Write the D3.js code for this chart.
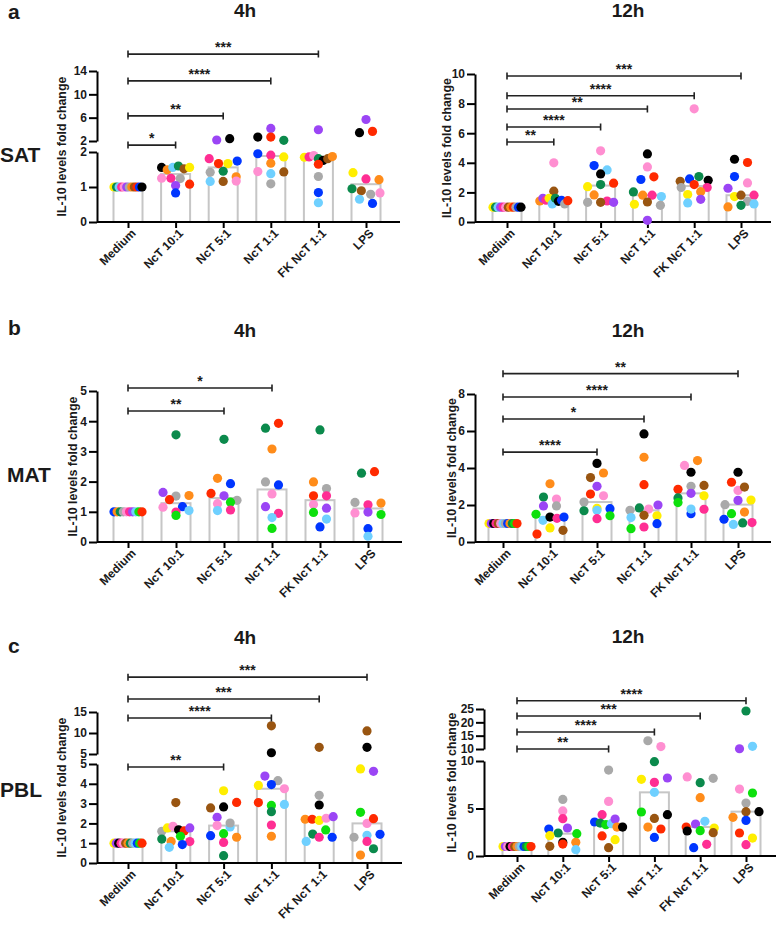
<!DOCTYPE html>
<html>
<head>
<meta charset="utf-8">
<script src="https://cdn.jsdelivr.net/npm/d3@7"></script>
<style>
  body { margin: 0; background: #fff; }
  text { font-family: "Liberation Sans", Arial, sans-serif; font-weight: bold; fill: #1a1a1a; }
</style>
</head>
<body>
<svg id="chart"></svg>
<script>
// categories on the x axis
const categories = ["Medium", "NcT 10:1", "NcT 5:1", "NcT 1:1", "FK NcT 1:1", "LPS"];

// donors (one colour each)
const donorIds = ["Y", "P", "H", "L", "O", "N", "K", "R", "G", "E", "B", "C", "A"];
const donorPalette = ["#ffee00", "#9b45f5", "#ff2e93", "#ff8fd1", "#ff8c1a", "#995511", "#000000",
                      "#ff2a00", "#0de00d", "#0b8a4c", "#0036ff", "#6fd0ff", "#a9a9a9"];

// fold change per donor, one list per category (order = left to right in the cluster)
const sat4h = [
  [["Y",1],["E",1],["C",1],["H",1],["L",1],["P",1],["A",1],["O",1],["N",1],["R",1],["B",1],["K",1]],
  [["K",1.56],["O",1.49],["C",1.56],["E",1.60],["N",1.52],["Y",1.56],["L",1.25],["H",1.25],["A",1.24],["R",1.08],["P",1.04],["B",0.83]],
  [["P",2.17],["K",2.4],["H",1.81],["R",1.67],["Y",1.67],["B",1.74],["A",1.42],["E",1.45],["O",1.29],["C",1.16],["N",1.16],["L",1.17]],
  [["K",2.68],["P",4.16],["R",2.68],["E",2.11],["B",1.95],["H",1.91],["Y",1.86],["O",1.68],["L",1.44],["C",1.38],["N",1.43],["A",1.09]],
  [["P",3.93],["Y",1.85],["H",1.86],["L",1.90],["E",1.81],["K",1.76],["N",1.81],["O",1.87],["R",1.65],["A",1.30],["B",0.84],["C",0.55]],
  [["P",5.69],["K",3.42],["R",3.65],["Y",1.41],["H",1.23],["O",1.21],["E",0.95],["N",0.89],["A",0.79],["L",0.83],["C",0.65],["B",0.53]]
];
const sat12h = [
  [["Y",1],["E",1],["C",1],["P",1],["H",1],["L",1],["N",1],["O",1],["R",1],["A",1],["B",1],["K",1]],
  [["L",4.0],["N",2.08],["O",1.42],["P",1.60],["H",1.47],["Y",1.60],["C",1.22],["E",1.60],["K",1.40],["B",1.47],["A",1.22],["R",1.44]],
  [["L",4.81],["B",3.81],["C",3.52],["K",3.25],["Y",2.39],["E",2.53],["R",2.62],["O",1.83],["A",1.33],["H",1.42],["N",1.33],["P",1.33]],
  [["K",4.60],["L",3.72],["B",2.87],["R",3.05],["E",2.03],["O",1.81],["H",1.81],["C",1.72],["Y",1.20],["N",1.35],["A",1.13],["P",0.11]],
  [["L",7.65],["N",2.75],["B",2.91],["E",3.07],["K",2.82],["A",2.33],["R",2.53],["H",2.33],["Y",1.85],["O",2.05],["C",1.29],["P",1.53]],
  [["K",4.24],["R",4.02],["B",3.07],["L",2.64],["P",2.28],["Y",1.72],["N",1.81],["H",1.81],["A",1.40],["O",1.02],["E",1.13],["C",1.22]]
];
const mat4h = [
  [["B",1],["O",1],["E",1],["A",1],["L",1],["H",1],["P",1],["C",1],["G",1],["R",1]],
  [["E",3.55],["P",1.64],["A",1.52],["O",1.54],["R",1.40],["L",1.15],["B",1.17],["H",0.99],["C",1.04],["G",0.88]],
  [["E",3.40],["O",2.11],["B",1.93],["R",1.61],["P",1.53],["A",1.38],["L",1.27],["G",1.32],["C",1.04],["H",1.06]],
  [["E",3.77],["R",3.93],["O",3.08],["A",1.99],["B",1.89],["L",1.59],["P",1.17],["H",0.95],["C",0.81],["G",0.45]],
  [["E",3.71],["O",1.99],["A",1.77],["R",1.53],["H",1.53],["L",1.24],["P",1.12],["G",0.98],["C",0.76],["B",0.50]],
  [["E",2.28],["R",2.33],["A",1.31],["H",1.23],["O",1.29],["L",0.96],["P",0.99],["G",0.91],["B",0.44],["C",0.19]]
];
const mat12h = [
  [["Y",1],["P",1],["K",1],["H",1],["N",1],["L",1],["C",1],["A",1],["B",1],["O",1],["E",1],["G",1],["R",1]],
  [["O",3.15],["E",2.43],["L",2.32],["P",1.95],["A",1.95],["G",1.50],["C",1.17],["K",1.35],["H",1.28],["B",1.35],["R",0.43],["Y",0.76],["N",0.63]],
  [["K",4.25],["N",3.48],["O",3.73],["P",3.01],["R",2.59],["L",2.50],["A",2.16],["E",1.69],["Y",1.82],["B",1.80],["C",1.71],["H",1.26],["G",1.42]],
  [["K",5.84],["O",4.58],["R",3.10],["A",1.71],["E",1.84],["L",1.78],["P",2.0],["C",1.32],["N",1.44],["Y",1.42],["G",0.72],["H",0.81],["B",0.99]],
  [["L",4.14],["O",4.40],["K",3.77],["R",2.85],["A",3.01],["N",3.06],["E",2.38],["P",2.63],["Y",2.50],["G",2.13],["B",1.53],["C",1.78],["H",1.77]],
  [["K",3.77],["R",3.23],["L",2.79],["N",2.97],["A",2.02],["P",2.25],["Y",2.27],["G",1.53],["O",1.62],["B",1.23],["C",0.95],["E",1.03],["H",1.05]]
];
const pbl4h = [
  [["Y",1],["P",1],["K",1],["H",1],["L",1],["N",1],["O",1],["E",1],["A",1],["C",1],["B",1],["G",1],["R",1]],
  [["N",3.05],["A",1.60],["Y",1.77],["L",1.85],["K",1.68],["R",1.62],["P",1.77],["E",1.21],["O",1.09],["G",1.35],["H",1.08],["C",0.79],["B",0.93]],
  [["Y",3.65],["N",2.78],["K",2.83],["R",3.06],["P",2.31],["L",1.89],["C",1.82],["A",2.02],["B",1.38],["G",1.48],["O",1.30],["H",1.04],["E",0.37]],
  [["N",11.7],["K",5.3],["P",4.39],["A",4.16],["Y",3.92],["B",3.96],["L",3.75],["R",3.05],["G",2.91],["C",2.96],["E",2.59],["H",1.92],["O",1.35]],
  [["N",6.6],["A",3.42],["K",2.93],["O",2.21],["R",2.21],["Y",2.15],["L",2.26],["P",2.34],["E",1.46],["G",1.67],["C",1.09],["H",1.30],["B",1.30]],
  [["N",10.5],["K",6.6],["Y",4.75],["P",4.63],["G",2.56],["L",2.0],["R",2.24],["A",1.30],["C",1.40],["B",1.45],["H",1.09],["O",0.40],["E",0.72]]
];
const pbl12h = [
  [["Y",1],["P",1],["L",1],["K",1],["H",1],["N",1],["O",1],["A",1],["C",1],["B",1],["E",1],["G",1],["R",1]],
  [["A",5.96],["L",4.74],["H",3.93],["B",2.84],["E",2.42],["P",2.95],["G",2.35],["Y",2.14],["K",1.44],["O",1.44],["N",1.02],["R",1.26],["C",0.67]],
  [["A",9.05],["L",5.75],["H",4.35],["B",3.58],["E",3.47],["G",3.30],["C",3.40],["P",3.89],["O",3.05],["K",3.05],["R",2.11],["Y",1.72],["N",0.88]],
  [["A",13.1],["L",10.9],["E",9.93],["Y",8.07],["H",7.75],["P",8.21],["C",6.70],["G",4.63],["N",3.96],["K",4.35],["O",3.05],["R",2.84],["B",1.96]],
  [["L",8.32],["E",7.72],["A",8.18],["O",6.14],["R",3.05],["P",3.37],["C",3.65],["Y",2.95],["K",2.63],["G",2.67],["N",2.46],["B",0.88],["H",1.23]],
  [["E",24.25],["P",10.1],["C",11.0],["L",7.05],["G",6.63],["A",5.58],["O",4.07],["N",4.67],["K",4.67],["B",3.75],["R",2.42],["Y",1.89],["H",1.19]]
];

// significance brackets vs Medium: [target category index, stars, height in axis units]
const sat4hSig = [[1, "*", 1.3], [2, "**", 6.3], [3, "****", 12.3], [4, "***", 16.9]];
const sat12hSig = [[1, "**", 5.41], [2, "****", 6.42], [3, "**", 7.64], [4, "****", 8.53], [5, "***", 9.86]];
const mat4hSig = [[2, "**", 4.34], [3, "*", 5.10]];
const mat12hSig = [[2, "****", 4.86], [3, "*", 6.65], [4, "****", 7.84], [5, "**", 9.1]];
const pbl4hSig = [[2, "**", 1.9], [3, "****", 13.57], [4, "***", 18.1], [5, "***", 23.3]];
const pbl12hSig = [[2, "**", 10], [3, "****", 16.4], [4, "***", 22.4], [5, "****", 28.1]];

const yTitle = "IL-10 levels fold change";

const width = 778, height = 925;
const svg = d3.select("#chart").attr("width", width).attr("height", height);
const colour = d3.scaleOrdinal(donorIds, donorPalette);
const FONT = "Liberation Sans, Arial, sans-serif";

// panel layout (pixels)
const panels = [
  { data: sat4h, sig: sat4hSig, title: "4h", tx: 245, ty: 17, axisX: 97, xEnd: 400, xr: [128, 366], labelX: 62,
    segs: [{ d: [0, 2], r: [222, 152], t: [0, 1, 2] }, { d: [2, 14], r: [141, 71], t: [2, 6, 10, 14] }] },
  { data: sat12h, sig: sat12hSig, title: "12h", tx: 628, ty: 17, axisX: 475, xEnd: 771, xr: [507, 741], labelX: 447,
    segs: [{ d: [0, 10], r: [222, 74], t: [0, 2, 4, 6, 8, 10] }] },
  { data: mat4h, sig: mat4hSig, title: "4h", tx: 245, ty: 337, axisX: 97, xEnd: 402, xr: [128, 368], labelX: 73,
    segs: [{ d: [0, 5], r: [542, 391], t: [0, 1, 2, 3, 4, 5] }] },
  { data: mat12h, sig: mat12hSig, title: "12h", tx: 628, ty: 337, axisX: 475, xEnd: 771, xr: [503, 738], labelX: 452,
    segs: [{ d: [0, 8], r: [542, 394], t: [0, 2, 4, 6, 8] }] },
  { data: pbl4h, sig: pbl4hSig, title: "4h", tx: 245, ty: 644, axisX: 97, xEnd: 402, xr: [128, 367], labelX: 62,
    segs: [{ d: [0, 5], r: [863, 764], t: [0, 1, 2, 3, 4, 5] }, { d: [5, 15], r: [754, 712], t: [5, 10, 15] }] },
  { data: pbl12h, sig: pbl12hSig, title: "12h", tx: 628, ty: 643, axisX: 484, xEnd: 776, xr: [517, 746], labelX: 452,
    segs: [{ d: [0, 10], r: [856, 761], t: [0, 5, 10] }, { d: [10, 25], r: [749, 709], t: [10, 15, 20, 25] }] }
];

// panel letters and tissue labels
const letters = [["a", 8, 19], ["b", 8, 335], ["c", 8, 653]];
const tissues = [["SAT", 0, 162], ["MAT", 7, 482], ["PBL", 0, 797]];

svg.selectAll("text.letter").data(letters).enter().append("text")
  .attr("class", "letter").attr("x", d => d[1]).attr("y", d => d[2])
  .style("font-size", "21px").text(d => d[0]);
svg.selectAll("text.tissue").data(tissues).enter().append("text")
  .attr("class", "tissue").attr("x", d => d[1]).attr("y", d => d[2])
  .style("font-size", "21px").text(d => d[0]);

// GraphPad-like spread: dots closer than ~7px vertically share a row and are fanned out
function spread(points) {
  const sorted = points.slice().sort((a, b) => a.py - b.py);
  const rows = [];
  let cur = null;
  sorted.forEach(p => {
    if (cur && p.py - cur[0].py < 7) cur.push(p);
    else { cur = [p]; rows.push(cur); }
  });
  rows.forEach(r => {
    r.sort((a, b) => a.i - b.i);
    const n = r.length;
    const s = n > 1 ? Math.min(13, 28 / (n - 1)) : 0;
    r.forEach((p, k) => { p.dx = (k - (n - 1) / 2) * s; });
  });
}

function styleTicks(sel) {
  sel.attr("font-size", 12).attr("font-family", FONT);
  sel.select(".domain").attr("stroke-width", 2);
  sel.selectAll(".tick line").attr("stroke-width", 2);
  sel.selectAll(".tick text").attr("fill", "#1a1a1a")
    .style("font-size", "12px").style("font-family", FONT).style("font-weight", "bold");
}

panels.forEach(pn => {
  const g = svg.append("g");
  const x = d3.scalePoint().domain(categories).range(pn.xr);
  const scales = pn.segs.map(s => d3.scaleLinear().domain(s.d).range(s.r));
  const low = scales[0];
  const top = scales[scales.length - 1];
  const yOf = v => (scales.length > 1 && v > pn.segs[0].d[1]) ? scales[1](v) : low(v);
  const y0 = low(0);

  // title
  g.append("text").attr("x", pn.tx).attr("y", pn.ty).attr("text-anchor", "middle")
    .style("font-size", "19px").text(pn.title);

  // bars = median
  const medians = pn.data.map(grp => d3.median(grp, d => d[1]));
  g.selectAll("rect.bar").data(medians).enter().append("rect")
    .attr("class", "bar")
    .attr("x", (d, i) => x(categories[i]) - 14.5)
    .attr("width", 29)
    .attr("y", d => yOf(d))
    .attr("height", d => y0 - yOf(d))
    .attr("fill", "#fff").attr("stroke", "#c6c6c6").attr("stroke-width", 2);

  // y axis segments
  pn.segs.forEach((s, k) => {
    g.append("g").attr("transform", `translate(${pn.axisX},0)`)
      .call(d3.axisLeft(scales[k]).tickValues(s.t).tickFormat(d3.format("d"))
        .tickSize(8).tickSizeOuter(0).tickPadding(2))
      .call(styleTicks);
  });

  // x axis
  const xa = g.append("g").attr("transform", `translate(0,${y0})`)
    .call(d3.axisBottom(x).tickSize(6).tickSizeOuter(0))
    .call(styleTicks);
  xa.select(".domain").attr("d", `M${pn.axisX},0H${pn.xEnd}`);
  xa.selectAll(".tick text")
    .attr("text-anchor", "end")
    .attr("transform", "translate(5,9) rotate(-45)")
    .attr("dy", "0.35em").attr("y", 0).attr("x", 0);

  // y title
  const yTop = top.range()[1];
  g.append("text")
    .attr("transform", `translate(${pn.labelX},${(yTop + y0) / 2}) rotate(-90)`)
    .attr("text-anchor", "middle").attr("dy", "0.35em")
    .style("font-size", "12.4px").text(yTitle);

  // dots
  pn.data.forEach((grp, gi) => {
    const pts = grp.map((d, i) => ({ donor: d[0], value: d[1], i, py: yOf(d[1]), dx: 0 }));
    spread(pts);
    g.selectAll(null).data(pts).enter().append("circle")
      .attr("cx", d => x(categories[gi]) + d.dx)
      .attr("cy", d => d.py)
      .attr("r", 4.6)
      .attr("fill", d => colour(d.donor));
  });

  // significance brackets
  const x0 = x(categories[0]);
  pn.sig.forEach(([ti, stars, v]) => {
    const yy = top(v);
    const x1 = x(categories[ti]);
    g.append("path")
      .attr("d", `M${x0},${yy}H${x1}M${x0},${yy - 3.5}V${yy + 3.5}M${x1},${yy - 3.5}V${yy + 3.5}`)
      .attr("stroke", "#222").attr("stroke-width", 1.6).attr("fill", "none");
    g.append("text").attr("x", (x0 + x1) / 2).attr("y", yy - 2)
      .attr("text-anchor", "middle").style("font-size", "14px").text(stars);
  });
});
</script>
</body>
</html>
